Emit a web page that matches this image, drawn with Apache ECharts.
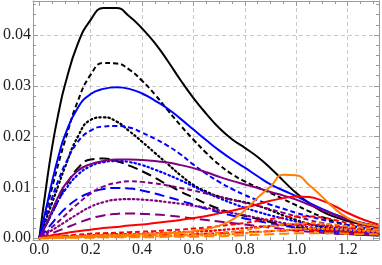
<!DOCTYPE html>
<html><head><meta charset="utf-8">
<script src="https://cdn.jsdelivr.net/npm/echarts@6/dist/echarts.min.js"></script>
<style>html,body{margin:0;padding:0;background:#fff}#c{width:382px;height:265px}</style>
</head><body><div id="c"></div>
<script>
const xs = [0, 0.025, 0.05, 0.075, 0.1, 0.15, 0.2, 0.25, 0.3, 0.35, 0.4, 0.45, 0.5, 0.55, 0.6, 0.65, 0.7, 0.75, 0.8, 0.85, 0.9, 0.95, 1.0, 1.05, 1.1, 1.15, 1.2, 1.25, 1.3, 1.32];

const blackSolid  = [0, .0095, .0180, .0247, .0302, .0383, .0430, .0453, .0453, .0437, .0413, .0384, .0349, .0311, .0276, .0245, .0217, .0195, .0178, .0160, .0138, .0113, .0089, .0069, .0053, .0042, .0034, .0028, .0023, .0021];
const blackDashed = [0, .0050, .0100, .0148, .0192, .0270, .0322, .0345, .0344, .0332, .0310, .0283, .0252, .0222, .0194, .0168, .0145, .0126, .0112, .0100, .0089, .0077, .0065, .0053, .0042, .0033, .0026, .0020, .0016, .0014];
const blackDotted = [0, .0035, .0070, .0105, .0140, .0200, .0233, .0238, .0230, .0211, .0190, .0168, .0146, .0124, .0105, .0092, .0082, .0076, .0071, .0064, .0055, .0045, .0036, .0028, .0022, .0017, .0013, .0010, .0008, .0007];
const blackLong   = [0, .0025, .0050, .0075, .0100, .0138, .0155, .0157, .0152, .0143, .0132, .0119, .0105, .0092, .0080, .0068, .0058, .0050, .0044, .0038, .0032, .0027, .0022, .0018, .0014, .0011, .0009, .0007, .0006, .0005];

const blueSolid   = [0, .0055, .0112, .0162, .0203, .0257, .0284, .0294, .0297, .0294, .0285, .0271, .0255, .0235, .0214, .0193, .0173, .0155, .0139, .0122, .0106, .0094, .0083, .0070, .0058, .0047, .0038, .0031, .0025, .0023];
const blueDashed  = [0, .0040, .0080, .0115, .0145, .0190, .0212, .0220, .0221, .0218, .0208, .0196, .0182, .0165, .0145, .0127, .0111, .0097, .0085, .0075, .0066, .0058, .0050, .0043, .0037, .0031, .0026, .0022, .0018, .0017];
const blueDotted  = [0, .0025, .0050, .0075, .0095, .0125, .0142, .0150, .0152, .0150, .0144, .0135, .0125, .0114, .0102, .0090, .0079, .0069, .0060, .0052, .0045, .0039, .0033, .0028, .0024, .0020, .0017, .0014, .0012, .0011];
const blueLong    = [0, .0015, .0030, .0045, .0058, .0078, .0090, .0097, .0099, .0098, .0094, .0088, .0081, .0074, .0066, .0058, .0051, .0045, .0039, .0034, .0029, .0025, .0021, .0018, .0015, .0013, .0011, .0009, .0008, .0007];

const purpleSolid  = [0, .0025, .0055, .0083, .0105, .0133, .0146, .0152, .0155, .0155, .0154, .0152, .0149, .0144, .0138, .0130, .0121, .0113, .0106, .0099, .0091, .0084, .0076, .0066, .0056, .0046, .0037, .0030, .0025, .0023];
const purpleDashed = [0, .0010, .0022, .0033, .0045, .0068, .0088, .0102, .0109, .0112, .0111, .0108, .0104, .0099, .0094, .0088, .0082, .0076, .0070, .0064, .0057, .0050, .0043, .0036, .0030, .0025, .0021, .0018, .0015, .0014];
const purpleDotted = [0, .0008, .0016, .0024, .0032, .0048, .0062, .0071, .0076, .0077, .0076, .0074, .0071, .0068, .0064, .0060, .0055, .0050, .0045, .0040, .0035, .0030, .0026, .0022, .0018, .0015, .0013, .0011, .0009, .0009];
const purpleLong   = [0, .0005, .0010, .0015, .0020, .0030, .0039, .0045, .0048, .0049, .0048, .0047, .0045, .0042, .0039, .0036, .0033, .0030, .0027, .0024, .0021, .0018, .0015, .0013, .0011, .0009, .0008, .0007, .0006, .0006];

const redSolid  = [0, .0003, .0006, .0008, .0010, .0014, .0017, .0020, .0022, .0025, .0027, .0030, .0033, .0036, .0040, .0044, .0049, .0054, .0060, .0067, .0074, .0079, .0082, .0081, .0074, .0063, .0050, .0039, .0030, .0027];
const redDashed = [0, .0002, .0003, .0004, .0005, .0007, .0009, .0010, .0011, .0012, .0013, .0014, .0016, .0017, .0019, .0021, .0024, .0027, .0030, .0034, .0038, .0041, .0043, .0043, .0041, .0036, .0030, .0025, .0020, .0019];
const redDotted = [0, .0001, .0002, .0003, .0004, .0005, .0006, .0007, .0008, .0008, .0009, .0010, .0011, .0012, .0013, .0014, .0016, .0018, .0020, .0022, .0024, .0026, .0027, .0027, .0026, .0023, .0020, .0017, .0014, .0013];
const redLong   = [0, .0001, .0001, .0002, .0002, .0003, .0004, .0004, .0005, .0005, .0006, .0006, .0007, .0007, .0008, .0009, .0010, .0011, .0012, .0013, .0014, .0015, .0016, .0016, .0015, .0014, .0012, .0011, .0009, .0009];

const orangeSolid  = [0, .0001, .0002, .0003, .0003, .0004, .0005, .0006, .0006, .0007, .0008, .0009, .0010, .0011, .0014, .0018, .0025, .0036, .0055, .0080, .0102, .0125, .0124, .0105, .0082, .0058, .0040, .0030, .0025, .0023];
const orangeDashed = [0, .0001, .0001, .0002, .0002, .0003, .0003, .0004, .0004, .0005, .0005, .0006, .0006, .0007, .0008, .0009, .0011, .0013, .0016, .0020, .0024, .0027, .0029, .0030, .0029, .0027, .0024, .0021, .0018, .0017];
const orangeDotted = [0, 0, .0001, .0001, .0001, .0002, .0002, .0002, .0003, .0003, .0003, .0004, .0004, .0005, .0005, .0006, .0007, .0008, .0010, .0012, .0014, .0016, .0018, .0019, .0019, .0018, .0017, .0015, .0014, .0013];
const orangeLong   = [0, 0, 0, .0001, .0001, .0001, .0001, .0002, .0002, .0002, .0002, .0002, .0003, .0003, .0003, .0004, .0004, .0005, .0006, .0007, .0008, .0009, .0010, .0010, .0010, .0010, .0009, .0008, .0008, .0007];

const xMajor = [0, 0.2, 0.4, 0.6, 0.8, 1.0, 1.2];
const yMajor = [0, 0.01, 0.02, 0.03, 0.04];
const xGrid = [0.2, 0.4, 0.6, 0.8, 1.0, 1.2];
const yGrid = [0.01, 0.02, 0.03, 0.04];

const XMIN = -0.0245, XMAX = 1.322, YMIN = -0.00034, YMAX = 0.0467;
const xMinor = []; for (let i = 0; i <= 26; i++) { const v = +(i * 0.05).toFixed(2); if (i % 4) xMinor.push(v); }
const yMinor = []; for (let i = 0; i <= 23; i++) { const v = +(i * 0.002).toFixed(3); if (i % 5) yMinor.push(v); }

const FRAME = '#9a9a9a';
const FONT = 'Liberation Serif';
function ax(kind, pos, vals, len, frame, labels, split) {
  const isX = kind === 'x';
  return {
    type: 'value', position: pos, min: isX ? XMIN : YMIN, max: isX ? XMAX : YMAX,
    axisLine: { show: frame, onZero: false, lineStyle: { color: FRAME, width: 1 } },
    axisTick: { show: len > 0, inside: true, length: len, customValues: vals, lineStyle: { color: FRAME, width: 1 } },
    axisLabel: { show: labels, customValues: vals, formatter: v => v.toFixed(isX ? 1 : 2), fontFamily: FONT, fontSize: 16, color: '#222', margin: 2 },
    splitLine: { show: split, lineStyle: { color: '#c8c8c8', type: [4, 3], width: 1 } },
    minorTick: { show: false }
  };
}

const styles = {
  solid: { type: 'solid', width: 2 },
  dashed: { type: [5, 3], width: 2 },
  dotted: { type: [1.5, 3], width: 2.2, cap: 'round' },
  long: { type: [10, 5], width: 2 }
};
const defs = [
  ['#000000', 'solid', blackSolid], ['#000000', 'dashed', blackDashed], ['#000000', 'dotted', blackDotted], ['#000000', 'long', blackLong],
  ['#0000ff', 'solid', blueSolid], ['#0000ff', 'dashed', blueDashed], ['#0000ff', 'dotted', blueDotted], ['#0000ff', 'long', blueLong],
  ['#800080', 'solid', purpleSolid], ['#800080', 'dashed', purpleDashed], ['#800080', 'dotted', purpleDotted], ['#800080', 'long', purpleLong],
  ['#ff0000', 'solid', redSolid], ['#ff0000', 'dashed', redDashed], ['#ff0000', 'dotted', redDotted], ['#ff0000', 'long', redLong],
  ['#ff8000', 'solid', orangeSolid], ['#ff8000', 'dashed', orangeDashed], ['#ff8000', 'dotted', orangeDotted], ['#ff8000', 'long', orangeLong]
];
const series = defs.map(([c, s, arr]) => ({
  type: 'line', xAxisIndex: 0, yAxisIndex: 0, showSymbol: false, smooth: true,
  data: xs.map((x, i) => [x, arr[i]]),
  lineStyle: Object.assign({ color: c }, styles[s]), itemStyle: { color: c }
}));

const chart = echarts.init(document.getElementById('c'), null, { renderer: 'canvas' });
chart.setOption({
  animation: false,
  grid: { left: 33, right: 3, top: 1, bottom: 25 },
  xAxis: [
    ax('x', 'bottom', xMajor, 5, true, true, false),
    ax('x', 'bottom', xMinor, 3, false, false, false),
    ax('x', 'top', xMajor, 5, true, false, false),
    ax('x', 'top', xMinor, 3, false, false, false),
    ax('x', 'bottom', xGrid, 0, false, false, true)
  ],
  yAxis: [
    ax('y', 'left', yMajor, 5, true, true, false),
    ax('y', 'left', yMinor, 3, false, false, false),
    ax('y', 'right', yMajor, 5, true, false, false),
    ax('y', 'right', yMinor, 3, false, false, false),
    ax('y', 'left', yGrid, 0, false, false, true)
  ],
  series: series
});
</script></body></html>
